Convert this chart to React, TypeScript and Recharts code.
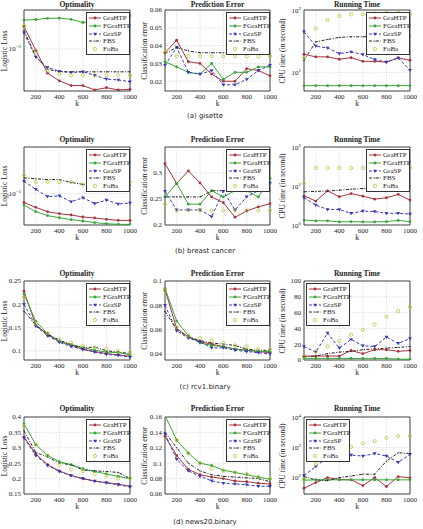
import React from 'react';
import { LineChart, Line, XAxis, YAxis, CartesianGrid, ReferenceArea, Legend } from 'recharts';

const SERIF = "'Liberation Serif', 'DejaVu Serif', serif";
const SANS = "'DejaVu Sans', sans-serif";

const K = [100, 200, 300, 400, 500, 600, 700, 800, 900, 1000];
const K_TICKS = [200, 400, 600, 800, 1000];
const METHODS = ['GraHTP', 'FGraHTP', 'GraSP', 'FBS', 'FoBa'];

type Series = Record<string, number[]>;

// (a) gisette
const gisetteLoss: Series = {
  GraHTP: [0.0206, 0.0095, 0.0045, 0.0035, 0.003, 0.003, 0.0026, 0.0028, 0.0026, 0.00265],
  FGraHTP: [0.0255, 0.026, 0.027, 0.0272, 0.0262, 0.0236, 0.024, 0.0255, 0.027, 0.0293],
  GraSP: [0.0168, 0.0076, 0.0054, 0.0048, 0.0046, 0.0047, 0.0042, 0.0037, 0.0036, 0.0034],
  FBS: [0.0181, 0.0078, 0.0051, 0.0047, 0.0047, 0.0047, 0.0047, 0.0047, 0.0047, 0.0047],
  FoBa: [0.021, 0.0092, 0.0049, 0.0044, 0.0042, 0.0042, 0.0042, 0.0042, 0.0042, 0.0042],
};
const gisetteError: Series = {
  GraHTP: [0.036, 0.043, 0.031, 0.03, 0.024, 0.02, 0.02, 0.027, 0.026, 0.023],
  FGraHTP: [0.031, 0.028, 0.025, 0.024, 0.03, 0.021, 0.025, 0.025, 0.028, 0.028],
  GraSP: [0.029, 0.039, 0.025, 0.024, 0.026, 0.018, 0.018, 0.021, 0.026, 0.029],
  FBS: [0.0355, 0.039, 0.037, 0.036, 0.036, 0.036, 0.036, 0.036, 0.036, 0.036],
  FoBa: [0.036, 0.034, 0.034, 0.034, 0.034, 0.034, 0.034, 0.034, 0.034, 0.034],
};
const gisetteTime: Series = {
  GraHTP: [19.5, 17.7, 17.7, 16.2, 17.2, 15, 15, 14.6, 17, 15.6],
  FGraHTP: [6.1, 6.1, 6.1, 6.1, 6.1, 6.1, 6.1, 6.1, 6.1, 6.1],
  GraSP: [44.7, 26.3, 24.6, 20, 21.2, 19.3, 16, 14.6, 17, 10.8],
  FBS: [15.5, 30.9, 33.6, 36.3, 37.2, 37.2, 38, 38, 38, 38.5],
  FoBa: [17, 50.6, 69, 80, 85, 85, 88, 90, 90, 85],
};

// (b) breast cancer
const breastLoss: Series = {
  GraHTP: [0.0775, 0.067, 0.059, 0.0556, 0.0535, 0.0504, 0.049, 0.047, 0.0457, 0.0455],
  FGraHTP: [0.0716, 0.059, 0.0525, 0.0494, 0.0466, 0.0448, 0.0427, 0.0414, 0.0406, 0.0404],
  GraSP: [0.145, 0.114, 0.092, 0.094, 0.079, 0.089, 0.075, 0.083, 0.074, 0.076],
  FBS: [0.16, 0.156, 0.152, 0.152, 0.14, 0.132, 0.13, 0.13, 0.13, 0.13],
  FoBa: [0.173, 0.142, 0.142, 0.142, 0.142, 0.132, 0.142, 0.142, 0.142, 0.142],
};
const breastError: Series = {
  GraHTP: [0.318, 0.28, 0.304, 0.281, 0.254, 0.243, 0.215, 0.227, 0.235, 0.241],
  FGraHTP: [0.254, 0.28, 0.24, 0.24, 0.266, 0.254, 0.266, 0.266, 0.254, 0.29],
  GraSP: [0.265, 0.229, 0.229, 0.229, 0.216, 0.265, 0.229, 0.254, 0.266, 0.28],
  FBS: [0.254, 0.254, 0.254, 0.254, 0.266, 0.266, 0.266, 0.266, 0.266, 0.266],
  FoBa: [0.24, 0.228, 0.228, 0.228, 0.228, 0.228, 0.228, 0.228, 0.228, 0.228],
};
const breastTime: Series = {
  GraHTP: [5.6, 4.1, 7.5, 5.3, 6.4, 5.5, 4.6, 5.0, 6.1, 4.35],
  FGraHTP: [1.34, 1.28, 1.28, 1.2, 1.22, 1.2, 1.2, 1.22, 1.31, 1.22],
  GraSP: [5.0, 3.25, 2.5, 2.5, 1.99, 2.27, 2.2, 2.0, 2.0, 1.91],
  FBS: [7.1, 7.3, 7.4, 7.8, 8.3, 8.6, 9, 9.3, 9.6, 10],
  FoBa: [11.6, 29, 29, 29, 29, 29, 29, 29, 29, 29],
};

// (c) rcv1.binary
const rcv1Loss: Series = {
  GraHTP: [0.228, 0.155, 0.135, 0.12, 0.112, 0.103, 0.098, 0.094, 0.091, 0.088],
  FGraHTP: [0.222, 0.163, 0.137, 0.12, 0.113, 0.107, 0.101, 0.097, 0.096, 0.091],
  GraSP: [0.2, 0.153, 0.132, 0.118, 0.109, 0.103, 0.097, 0.092, 0.09, 0.086],
  FBS: [0.185, 0.155, 0.135, 0.123, 0.113, 0.106, 0.108, 0.1, 0.097, 0.094],
  FoBa: [0.215, 0.158, 0.138, 0.124, 0.117, 0.111, 0.107, 0.104, 0.099, 0.097],
};
const rcv1Error: Series = {
  GraHTP: [0.093, 0.061, 0.054, 0.05, 0.048, 0.046, 0.044, 0.043, 0.042, 0.041],
  FGraHTP: [0.094, 0.067, 0.055, 0.049, 0.047, 0.046, 0.044, 0.043, 0.042, 0.042],
  GraSP: [0.08, 0.059, 0.053, 0.05, 0.045, 0.045, 0.043, 0.042, 0.041, 0.04],
  FBS: [0.075, 0.06, 0.054, 0.051, 0.049, 0.048, 0.047, 0.044, 0.043, 0.043],
  FoBa: [0.092, 0.062, 0.055, 0.053, 0.051, 0.049, 0.047, 0.046, 0.044, 0.044],
};
const rcv1Time: Series = {
  GraHTP: [5, 5, 5, 5, 12, 8, 13, 13, 11, 12],
  FGraHTP: [2, 2, 2, 2, 2, 2, 2, 2, 1, 1],
  GraSP: [17, 10, 34, 15, 26, 18, 17, 29, 21, 27],
  FBS: [4, 5, 8, 10, 11, 13, 14, 15, 16, 17],
  FoBa: [4, 11, 17, 24, 32, 38, 45, 55, 62, 67],
};

// (d) news20.binary
const news20Loss: Series = {
  GraHTP: [0.335, 0.28, 0.245, 0.225, 0.21, 0.2, 0.192, 0.187, 0.182, 0.175],
  FGraHTP: [0.378, 0.31, 0.275, 0.255, 0.245, 0.232, 0.223, 0.215, 0.207, 0.2],
  GraSP: [0.332, 0.275, 0.243, 0.223, 0.21, 0.2, 0.192, 0.186, 0.18, 0.173],
  FBS: [0.355, 0.285, 0.27, 0.25, 0.245, 0.228, 0.225, 0.223, 0.22, 0.2],
  FoBa: [0.37, 0.31, 0.275, 0.245, 0.23, 0.225, 0.215, 0.21, 0.2, 0.203],
};
const news20Error: Series = {
  GraHTP: [0.135, 0.11, 0.092, 0.085, 0.082, 0.08, 0.077, 0.076, 0.074, 0.073],
  FGraHTP: [0.162, 0.13, 0.113, 0.1, 0.097, 0.091, 0.088, 0.085, 0.082, 0.079],
  GraSP: [0.138, 0.105, 0.09, 0.083, 0.077, 0.074, 0.073, 0.072, 0.07, 0.07],
  FBS: [0.14, 0.12, 0.1, 0.09, 0.085, 0.083, 0.082, 0.081, 0.08, 0.076],
  FoBa: [0.163, 0.13, 0.113, 0.1, 0.093, 0.09, 0.088, 0.086, 0.082, 0.08],
};
const news20Time: Series = {
  GraHTP: [46, 70, 102, 88, 86, 56, 102, 52, 110, 100],
  FGraHTP: [84, 86, 86, 86, 86, 86, 86, 86, 86, 86],
  GraSP: [119, 235, 480, 540, 562, 520, 630, 520, 324, 590],
  FBS: [110, 86, 81, 102, 115, 132, 132, 357, 670, 630],
  FoBa: [90, 280, 500, 800, 1050, 1350, 1600, 2070, 2340, 2340],
};

const COLORS: Record<string, string> = {
  GraHTP: '#a6343f',
  FGraHTP: '#3aa43a',
  GraSP: '#3838b8',
  FBS: '#222222',
  FoBa: '#b7c53c',
};
const DASH: Record<string, string | undefined> = {
  GraHTP: undefined,
  FGraHTP: undefined,
  GraSP: '3 2',
  FBS: '3 1.5 1 1.5',
  FoBa: undefined,
};

// layout of the 4x3 grid of plot areas
const ROWS = [
  { plotTop: 10, plotH: 81, titleY: 5, captionY: 116, caption: '(a) gisette' },
  { plotTop: 147, plotH: 78, titleY: 140, captionY: 251, caption: '(b) breast cancer' },
  { plotTop: 281, plotH: 79, titleY: 274, captionY: 387, caption: '(c) rcv1.binary' },
  { plotTop: 417, plotH: 77, titleY: 409, captionY: 522, caption: '(d) news20.binary' },
];
const COLS = [
  { plotLeft: 24, plotW: 106, yw: 24, labelX: 5 },
  { plotLeft: 165, plotW: 105, yw: 30, labelX: 145 },
  { plotLeft: 304, plotW: 106, yw: 26, labelX: 283 },
];
const MT = 4;
const MR = 11;
const XH = 16;
const LW = 44;

function Mark({ kind, cx, cy }: { kind: string; cx: number; cy: number }) {
  const c = COLORS[kind];
  switch (kind) {
    case 'GraHTP':
      return <circle cx={cx} cy={cy} r={1.4} fill={c} />;
    case 'FGraHTP':
      return <circle cx={cx} cy={cy} r={1.4} fill={c} />;
    case 'GraSP':
      return <path d={`M${cx - 1.9},${cy - 1.3} L${cx + 1.9},${cy - 1.3} L${cx},${cy + 1.9} Z`} fill={c} />;
    case 'FBS':
      return <circle cx={cx} cy={cy} r={0.6} fill={c} />;
    default:
      return <circle cx={cx} cy={cy} r={1.6} fill="none" stroke={c} strokeWidth={0.8} />;
  }
}

const LegendBox = () => (
  <div
    style={{
      border: '1px solid #333',
      background: '#fff',
      padding: '1px 2px',
      width: LW,
      boxSizing: 'border-box',
      fontFamily: SERIF,
      fontSize: 7,
      color: '#222',
    }}
  >
    {METHODS.map((m) => (
      <div key={m} style={{ display: 'flex', alignItems: 'center', height: 7.8 }}>
        <svg width={12} height={8} style={{ flex: 'none' }}>
          {m !== 'FoBa' && (
            <line x1={0} y1={4} x2={12} y2={4} stroke={COLORS[m]} strokeWidth={1} strokeDasharray={DASH[m]} />
          )}
          <Mark kind={m} cx={6} cy={4} />
        </svg>
        <span style={{ marginLeft: 2, lineHeight: '8px', whiteSpace: 'nowrap' }}>{m}</span>
      </div>
    ))}
  </div>
);

const LogTick = (p: any) => {
  const e = Math.round(Math.log10(p.payload.value));
  return (
    <text x={p.x} y={p.y + 2.5} textAnchor="end" fontSize={7} fill="#222" fontFamily={SERIF}>
      10
      <tspan dy={-3} fontSize={5}>
        {e < 0 ? `\u2212${-e}` : e}
      </tspan>
    </text>
  );
};

type PanelProps = {
  row: number;
  col: number;
  series: Series;
  domain: [number, number];
  ticks: number[];
  log?: boolean;
  legendLeft?: boolean;
  title: string;
  yLabel: string;
};

function Panel({ row, col, series, domain, ticks, log, legendLeft, title, yLabel }: PanelProps) {
  const r = ROWS[row];
  const c = COLS[col];
  const W = c.yw + c.plotW + MR;
  const H = MT + r.plotH + XH;
  const data = K.map((k, i) => {
    const o: Record<string, number> = { k };
    METHODS.forEach((m) => (o[m] = series[m][i]));
    return o;
  });
  const text = { position: 'absolute' as const, fontFamily: SERIF, color: '#222', textAlign: 'center' as const };

  return (
    <>
      <div style={{ ...text, left: c.plotLeft, width: c.plotW, top: r.titleY - 5, height: 10, lineHeight: '10px', fontWeight: 'bold', fontSize: 7.5 }}>
        {title}
      </div>
      <div
        style={{
          ...text,
          left: c.labelX - 50,
          top: r.plotTop + r.plotH / 2 - 5,
          width: 100,
          height: 10,
          lineHeight: '10px',
          fontSize: 7.5,
          transform: 'rotate(-90deg)',
        }}
      >
        {yLabel}
      </div>
      <div style={{ ...text, left: c.plotLeft, width: c.plotW, top: r.plotTop + r.plotH + 8, height: 10, lineHeight: '10px', fontSize: 7.5 }}>
        k
      </div>
      <div style={{ position: 'absolute', left: c.plotLeft - c.yw, top: r.plotTop - MT }}>
        <LineChart width={W} height={H} data={data} margin={{ top: MT, right: MR, left: 0, bottom: 0 }}>
          <CartesianGrid stroke="#bdbdbd" strokeDasharray="1 1.5" strokeWidth={0.6} />
          <XAxis
            dataKey="k"
            type="number"
            domain={[100, 1000]}
            ticks={K_TICKS}
            interval={0}
            height={XH}
            tickSize={0}
            tickMargin={3}
            axisLine={false}
            tickLine={false}
            tick={{ fontSize: 7, fill: '#222', fontFamily: SERIF }}
          />
          <YAxis
            type="number"
            scale={log ? 'log' : 'linear'}
            domain={domain}
            ticks={ticks}
            interval={0}
            allowDataOverflow
            width={c.yw}
            tickSize={0}
            tickMargin={3}
            axisLine={false}
            tickLine={false}
            tick={log ? <LogTick /> : { fontSize: 7, fill: '#222', fontFamily: SERIF }}
          />
          <ReferenceArea x1={100} x2={1000} y1={domain[0]} y2={domain[1]} fill="none" stroke="#333" strokeWidth={0.9} />
          {METHODS.map((m) => (
            <Line
              key={m}
              dataKey={m}
              type="linear"
              stroke={m === 'FoBa' ? 'none' : COLORS[m]}
              strokeWidth={1}
              strokeDasharray={DASH[m]}
              dot={(p: any) => (
                <g key={`${m}-${p.index}`}>
                  <Mark kind={m} cx={p.cx} cy={p.cy} />
                </g>
              )}
              activeDot={false}
              isAnimationActive={false}
            />
          ))}
          <Legend
            layout="vertical"
            align="center"
            verticalAlign="middle"
            wrapperStyle={{ left: legendLeft ? c.yw + 2 : c.yw + c.plotW - LW, top: MT + 2, width: LW }}
            content={() => <LegendBox />}
          />
        </LineChart>
      </div>
    </>
  );
}

export default function App() {
  return (
    <div style={{ position: 'absolute', left: 0, top: 0, width: 423, height: 529, background: '#fff', overflow: 'hidden' }}>
      <Panel row={0} col={0} series={gisetteLoss} domain={[0.00251, 0.0355]} ticks={[0.01]} log title="Optimality" yLabel="Logistic Loss" />
      <Panel row={0} col={1} series={gisetteError} domain={[0.0145, 0.06]} ticks={[0.02, 0.03, 0.04, 0.05, 0.06]} title="Prediction Error" yLabel="Classification error" />
      <Panel row={0} col={2} series={gisetteTime} domain={[5.01, 100]} ticks={[10, 100]} log title="Running Time" yLabel="CPU time (in second)" />

      <Panel row={1} col={0} series={breastLoss} domain={[0.0398, 0.398]} ticks={[0.1]} log title="Optimality" yLabel="Logistic Loss" />
      <Panel row={1} col={1} series={breastError} domain={[0.2, 0.35]} ticks={[0.2, 0.25, 0.3]} title="Prediction Error" yLabel="Classification error" />
      <Panel row={1} col={2} series={breastTime} domain={[1, 100]} ticks={[1, 10, 100]} log title="Running Time" yLabel="CPU time (in second)" />

      <Panel row={2} col={0} series={rcv1Loss} domain={[0.08, 0.25]} ticks={[0.1, 0.15, 0.2, 0.25]} title="Optimality" yLabel="Logistic Loss" />
      <Panel row={2} col={1} series={rcv1Error} domain={[0.035, 0.1]} ticks={[0.04, 0.06, 0.08, 0.1]} title="Prediction Error" yLabel="Classification error" />
      <Panel row={2} col={2} series={rcv1Time} domain={[0, 100]} ticks={[0, 20, 40, 60, 80, 100]} legendLeft title="Running Time" yLabel="CPU time (in second)" />

      <Panel row={3} col={0} series={news20Loss} domain={[0.15, 0.4]} ticks={[0.15, 0.2, 0.25, 0.3, 0.35, 0.4]} title="Optimality" yLabel="Logistic Loss" />
      <Panel row={3} col={1} series={news20Error} domain={[0.06, 0.16]} ticks={[0.06, 0.08, 0.1, 0.12, 0.14, 0.16]} title="Prediction Error" yLabel="Classification error" />
      <Panel row={3} col={2} series={news20Time} domain={[29.5, 10000]} ticks={[100, 1000, 10000]} log legendLeft title="Running Time" yLabel="CPU time (in second)" />

      {ROWS.map((r) => (
        <div
          key={r.caption}
          style={{
            position: 'absolute',
            left: 105,
            width: 200,
            top: r.captionY - 5,
            height: 10,
            lineHeight: '10px',
            textAlign: 'center',
            fontFamily: SANS,
            fontSize: 7,
            color: '#222',
          }}
        >
          {r.caption}
        </div>
      ))}
    </div>
  );
}
